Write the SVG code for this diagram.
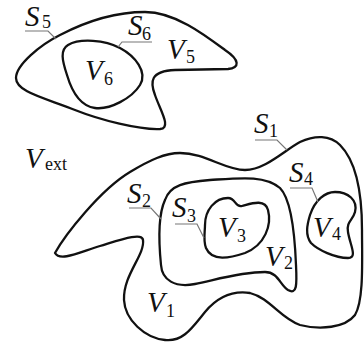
<svg xmlns="http://www.w3.org/2000/svg" width="364" height="346" viewBox="0 0 364 346">
<style>
.b{fill:none;stroke:#111;stroke-width:2.3;stroke-linejoin:round}
.l{fill:none;stroke:#777;stroke-width:1.2}
.m{font-family:"Liberation Serif",serif;font-style:italic;font-size:29px;fill:#111}
.s{font-family:"Liberation Serif",serif;font-size:18px;fill:#111}
</style>
<rect width="364" height="346" fill="#fff"/>
<g id="S5">
<path class="b" d="M16,78 C16,65 40,45 60,35 C85,22 115,12 145,12 C175,12 205,35 225,50 C240,60 240,68 228,69 L175,70 C150,71 150,82 155,95 C160,110 172,128 160,129 C140,130 100,120 75,110 C45,98 16,92 16,78 Z"/>
<text class="m" x="25" y="26">S</text><text class="s" x="42" y="28">5</text>
</g>
<g id="S6">
<path class="b" d="M68,45 C80,38 105,40 120,48 C135,56 148,72 140,85 C132,98 110,110 95,108 C80,106 72,92 67,75 C62,60 60,50 68,45 Z"/>
<text class="m" x="128" y="35">S</text><text class="s" x="142" y="40">6</text>
</g>
<g id="V5"><text class="m" x="167" y="59">V</text><text class="s" x="186" y="63">5</text></g>
<g id="V6"><text class="m" x="85" y="80">V</text><text class="s" x="104" y="85">6</text></g>
<g id="Vext"><text class="m" x="25" y="168">V</text><text class="s" x="45" y="170">ext</text></g>
<g id="S1">
<path class="b" d="M55,253 C65,235 100,190 130,172 C150,160 165,153 180,153 C205,153 225,170 245,170 C265,170 285,150 300,142 C315,135 330,135 340,145 C355,160 362,190 362,230 C362,260 364,300 355,315 C345,328 320,330 300,325 C280,318 270,298 250,293 C230,290 215,300 205,312 C192,328 183,342 165,340 C145,338 125,320 124,300 C123,275 145,255 143,240 C142,232 120,240 100,246 C80,252 60,262 55,253 Z"/>
<text class="m" x="254" y="133">S</text><text class="s" x="269" y="137">1</text>
</g>
<g id="S2">
<path class="b" d="M165,200 C170,185 185,182 210,180 C240,178 265,175 280,188 C292,200 295,240 296,265 C297,285 297,295 288,290 C280,285 278,272 265,272 C240,272 215,280 195,284 C175,288 162,280 161,265 C159,245 158,215 165,200 Z"/>
<text class="m" x="127" y="203">S</text><text class="s" x="142" y="207">2</text>
</g>
<g id="S3">
<path class="b" d="M205,225 C205,210 215,198 228,198 C236,198 235,208 242,206 C250,204 265,198 268,210 C272,225 265,245 245,253 C230,258 212,262 206,248 C203,240 205,232 205,225 Z"/>
<text class="m" x="172" y="217">S</text><text class="s" x="187" y="222">3</text>
</g>
<g id="S4">
<path class="b" d="M310,215 C315,200 325,192 335,192 C348,192 358,200 355,212 C353,220 346,222 348,232 C350,245 358,258 348,258 C335,258 318,250 311,243 C305,235 307,225 310,215 Z"/>
<text class="m" x="289" y="182">S</text><text class="s" x="304" y="185">4</text>
</g>
<g id="V1"><text class="m" x="147" y="312">V</text><text class="s" x="166" y="317">1</text></g>
<g id="V2"><text class="m" x="265" y="266">V</text><text class="s" x="284" y="269">2</text></g>
<g id="V3"><text class="m" x="218" y="237">V</text><text class="s" x="237" y="242">3</text></g>
<g id="V4"><text class="m" x="313" y="237">V</text><text class="s" x="332" y="240">4</text></g>
<g id="connectors">
<path class="l" d="M25,31 H48 L56,39"/>
<path class="l" d="M152,42 H122 L118,47"/>
<path class="l" d="M255,140 H277 L287,150"/>
<path class="l" d="M290,188 H312 L318,202"/>
<path class="l" d="M129,208 H151 L161,219"/>
<path class="l" d="M175,224 H197 L204,238"/>
</g>
</svg>
